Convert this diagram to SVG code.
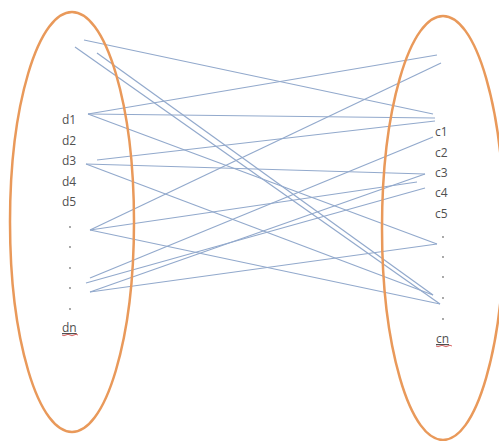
<svg xmlns="http://www.w3.org/2000/svg" width="499" height="441" viewBox="0 0 499 441">
<style>
.set{fill:none;stroke:#e9995a;stroke-width:2.5}
.ln{stroke:#92a9cc;stroke-width:1.2;fill:none}
.lb{font-family:"Open Sans","DejaVu Sans",sans-serif;font-size:12px;fill:#505050}
.dot{fill:#808080}
.sq{stroke:#d04040;stroke-width:0.8;fill:none}
</style>
<rect width="499" height="441" fill="#ffffff"/>
<g id="connectors">
<line class="ln" x1="84" y1="40" x2="433" y2="114"/>
<line class="ln" x1="88" y1="114" x2="437" y2="55"/>
<line class="ln" x1="88" y1="114" x2="435" y2="118"/>
<line class="ln" x1="88" y1="114" x2="437" y2="244"/>
<line class="ln" x1="97" y1="160" x2="435" y2="121"/>
<line class="ln" x1="75" y1="47" x2="440" y2="304"/>
<line class="ln" x1="97" y1="53" x2="433" y2="295"/>
<line class="ln" x1="86" y1="164" x2="425" y2="174"/>
<line class="ln" x1="86" y1="164" x2="433" y2="295"/>
<line class="ln" x1="90" y1="230" x2="441" y2="63"/>
<line class="ln" x1="90" y1="230" x2="417" y2="182"/>
<line class="ln" x1="90" y1="230" x2="440" y2="304"/>
<line class="ln" x1="90" y1="278" x2="433" y2="137"/>
<line class="ln" x1="86" y1="283" x2="425" y2="188"/>
<line class="ln" x1="90" y1="292" x2="425" y2="174"/>
<line class="ln" x1="90" y1="292" x2="437" y2="244"/>
</g>
<g id="set-d">
<ellipse class="set" cx="72" cy="222" rx="62" ry="210"/>
<text class="lb" x="62" y="124">d1</text>
<text class="lb" x="62" y="145">d2</text>
<text class="lb" x="62" y="165">d3</text>
<text class="lb" x="62" y="186">d4</text>
<text class="lb" x="62" y="206">d5</text>
<circle class="dot" cx="70" cy="227" r="0.9"/>
<circle class="dot" cx="70" cy="247" r="0.9"/>
<circle class="dot" cx="70" cy="268" r="0.9"/>
<circle class="dot" cx="70" cy="288" r="0.9"/>
<circle class="dot" cx="70" cy="309" r="0.9"/>
<text class="lb" x="62" y="332" text-decoration="underline">dn</text>
<path class="sq" d="M62 335 q2 1.5 4 0 t4 0 t4 0 t4 0"/>
</g>
<g id="set-c">
<ellipse class="set" cx="443" cy="228" rx="61" ry="212"/>
<text class="lb" x="435" y="136">c1</text>
<text class="lb" x="435" y="157">c2</text>
<text class="lb" x="435" y="177">c3</text>
<text class="lb" x="435" y="197">c4</text>
<text class="lb" x="435" y="218">c5</text>
<circle class="dot" cx="443" cy="237" r="0.9"/>
<circle class="dot" cx="443" cy="257" r="0.9"/>
<circle class="dot" cx="443" cy="277" r="0.9"/>
<circle class="dot" cx="443" cy="298" r="0.9"/>
<circle class="dot" cx="443" cy="319" r="0.9"/>
<text class="lb" x="436" y="343" text-decoration="underline">cn</text>
<path class="sq" d="M436 346 q2 1.5 4 0 t4 0 t4 0 t4 0"/>
</g>
</svg>
